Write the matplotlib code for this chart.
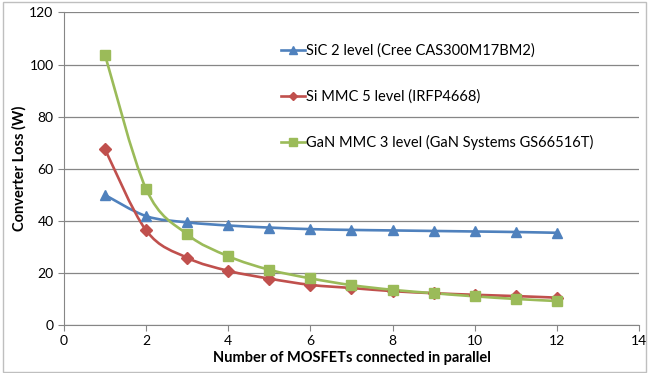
import numpy as np
import matplotlib
matplotlib.use('Agg')
import matplotlib.pyplot as plt
from matplotlib.path import Path
from matplotlib.patches import PathPatch, Rectangle
from matplotlib.lines import Line2D

plt.rcParams['font.family'] = ['Lato', 'DejaVu Sans']

n_mosfets = [1, 2, 3, 4, 5, 6, 7, 8, 9, 10, 11, 12]
sic_loss = [49.9, 41.8, 39.4, 38.2, 37.4, 36.8, 36.5, 36.3, 36.1, 35.9, 35.7, 35.4]
si_loss = [67.4, 36.3, 25.8, 20.8, 17.8, 15.4, 14.2, 13.0, 12.2, 11.6, 11.1, 10.5]
gan_loss = [103.6, 52.2, 34.8, 26.4, 21.2, 17.9, 15.3, 13.5, 12.2, 11.0, 10.0, 9.2]

labels = ['SiC 2 level (Cree CAS300M17BM2)',
          'Si MMC 5 level (IRFP4668)',
          'GaN MMC 3 level (GaN Systems GS66516T)']
colors = ['#4F81BD', '#C0504D', '#9BBB59']
markers = ['^', 'D', 's']
msizes = [7.5, 6, 7.5]


def smooth_path(x, y):
    # excel-like smoothed line: catmull-rom segments as cubic beziers
    p = np.column_stack([x, y]).astype(float)
    pp = np.vstack([p[0], p, p[-1]])
    verts = [p[0]]
    codes = [Path.MOVETO]
    for i in range(len(p) - 1):
        p0, p1, p2, p3 = pp[i], pp[i + 1], pp[i + 2], pp[i + 3]
        verts += [p1 + (p2 - p0) / 6, p2 - (p3 - p1) / 6, p2]
        codes += [Path.CURVE4] * 3
    return Path(verts, codes)


fig = plt.figure(figsize=(6.49, 3.73), dpi=100)
ax = fig.add_axes([0.0986, 0.1287, 0.886, 0.838])

handles = []
for ys, lab, c, m, ms in zip([sic_loss, si_loss, gan_loss], labels, colors, markers, msizes):
    ax.add_patch(PathPatch(smooth_path(n_mosfets, ys), fill=False, edgecolor=c, lw=1.9, zorder=3))
    ax.plot(n_mosfets, ys, linestyle='none', marker=m, color=c, markersize=ms, zorder=4)
    handles.append(Line2D([], [], color=c, lw=1.9, marker=m, markersize=ms * 0.75, label=lab))

ax.set_xlim(0, 14)
ax.set_ylim(0, 120)
ax.set_xticks(np.arange(0, 15, 2))
ax.set_yticks(np.arange(0, 121, 20))
ax.yaxis.grid(True, color='#868686', lw=0.9)
ax.set_axisbelow(True)
for s in ['top', 'right']:
    ax.spines[s].set_visible(False)
for s in ['left', 'bottom']:
    ax.spines[s].set_color('#868686')
ax.tick_params(axis='both', colors='#868686', labelcolor='black', labelsize=10, length=4)

ax.set_xlabel('Number of MOSFETs connected in parallel', fontsize=10.5, fontweight='bold', labelpad=2.5)
ax.set_ylabel('Converter Loss (W)', fontsize=10.5, fontweight='bold', labelpad=2)

ax.legend(handles=handles, loc='upper left', bbox_to_anchor=(0.377, 0.9), frameon=False,
          fontsize=10.5, labelspacing=2.15, handlelength=1.65, handletextpad=0.08,
          borderpad=0, borderaxespad=0)

fig.patches.append(Rectangle((0.005, 0.004), 0.99, 0.99, transform=fig.transFigure,
                             fill=False, edgecolor='#BFBFBF', lw=1))

fig.savefig('out.png', dpi=100)
